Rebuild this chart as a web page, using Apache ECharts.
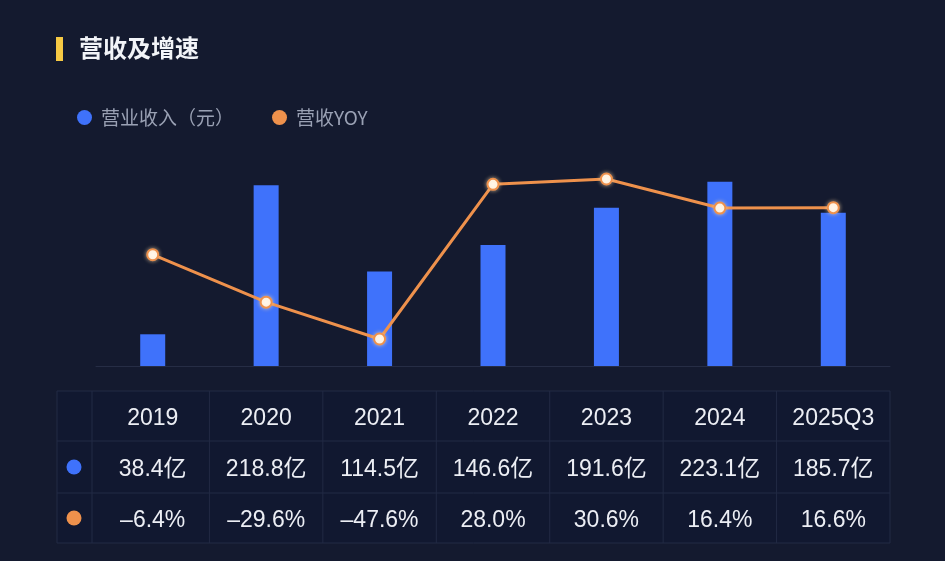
<!DOCTYPE html>
<html>
<head>
<meta charset="utf-8">
<script src="https://cdn.jsdelivr.net/npm/echarts@6/dist/echarts.min.js"></script>
<style>
  html, body { margin: 0; padding: 0; background: #141a2f; }
  #chart { width: 945px; height: 561px; }
</style>
</head>
<body>
<div id="chart"></div>
<script>
// data
const years = ['2019', '2020', '2021', '2022', '2023', '2024', '2025Q3'];
const revenue = [38.4, 218.8, 114.5, 146.6, 191.6, 223.1, 185.7];   // 亿元
const revenueYoy = [-6.4, -29.6, -47.6, 28.0, 30.6, 16.4, 16.6];    // %

const BLUE = '#3f72fb';
const ORANGE = '#ee914c';
const TEXT = '#eceef4';
const FONT = '"Noto Sans CJK SC", "Noto Sans", sans-serif';
const NUM_FONT = '"Liberation Sans", "Noto Sans CJK SC", sans-serif';

const chart = echarts.init(document.getElementById('chart'));

const option = {
  backgroundColor: '#141a2f',
  animation: false,
  title: {
    text: '营收及增速',
    left: 74,
    top: 31,
    textStyle: { color: '#f2f4f8', fontSize: 24, fontWeight: 'bold', fontFamily: FONT },
  },
  legend: {
    left: 72,
    top: 103,
    itemWidth: 15,
    itemHeight: 15,
    itemGap: 38,
    icon: 'circle',
    textStyle: { color: '#9aa1b4', fontSize: 19, fontFamily: FONT, padding: [0, 0, 0, 4] },
    data: [
      { name: '营业收入（元）', itemStyle: { color: BLUE, borderWidth: 0 } },
      { name: '营收YOY', itemStyle: { color: ORANGE, borderWidth: 0 } },
    ],
  },
  grid: { left: 96, right: 55, top: 143, bottom: 195 },
  xAxis: {
    type: 'category',
    data: years,
    axisLine: { lineStyle: { color: '#262d45', width: 1 } },
    axisTick: { show: false },
    axisLabel: { show: false },
  },
  yAxis: [
    { type: 'value', min: 0, max: 270, show: false, splitLine: { show: false } },
    { type: 'value', min: -60.8, max: 48.2, show: false, splitLine: { show: false } },
  ],
  series: [
    {
      name: '营业收入（元）',
      type: 'bar',
      data: revenue,
      barWidth: 25,
      itemStyle: { color: BLUE },
    },
    {
      name: '营收YOY',
      type: 'line',
      yAxisIndex: 1,
      data: revenueYoy,
      symbol: 'circle',
      symbolSize: 11,
      lineStyle: { color: ORANGE, width: 3 },
      itemStyle: { color: '#fff8ee', borderColor: ORANGE, borderWidth: 2, shadowColor: 'rgba(255,220,170,0.6)', shadowBlur: 4 },
    },
  ],
};
chart.setOption(option);

// the data table under the chart, placed with the category axis
function drawTable() {
  const left = 57;
  const iconColW = 35;
  const rowTops = [391, 441, 493];
  const rowH = [50, 52, 50];
  const bottom = 543;
  const xs = years.map((y) => chart.convertToPixel({ xAxisIndex: 0 }, y));
  const step = xs[1] - xs[0];
  const right = xs[xs.length - 1] + step / 2;
  const lineColor = '#222a44';
  const els = [];

  // yellow mark next to the title
  els.push({ type: 'rect', shape: { x: 56, y: 37, width: 7, height: 24 }, style: { fill: '#f6c944' } });

  els.push({ type: 'rect', shape: { x: left, y: rowTops[0], width: right - left, height: bottom - rowTops[0] },
    style: { fill: '#111830', stroke: lineColor, lineWidth: 1 } });
  rowTops.slice(1).forEach((y) => {
    els.push({ type: 'line', shape: { x1: left, y1: y, x2: right, y2: y }, style: { stroke: lineColor, lineWidth: 1 } });
  });
  const vx = [left + iconColW].concat(xs.slice(0, -1).map((x) => x + step / 2));
  vx.forEach((x) => {
    els.push({ type: 'line', shape: { x1: x, y1: rowTops[0], x2: x, y2: bottom }, style: { stroke: lineColor, lineWidth: 1 } });
  });

  const rows = [
    years,
    revenue.map((v) => v.toFixed(1) + '亿'),
    revenueYoy.map((v) => (v < 0 ? '–' + Math.abs(v).toFixed(1) : v.toFixed(1)) + '%'),
  ];
  rows.forEach((row, r) => {
    const cy = rowTops[r] + rowH[r] / 2 + 3;
    row.forEach((txt, i) => {
      els.push({
        type: 'text',
        x: xs[i],
        y: cy,
        style: {
          text: txt, fill: TEXT, fontSize: 23, fontFamily: NUM_FONT,
          align: 'center', verticalAlign: 'middle',
        },
      });
    });
  });
  [BLUE, ORANGE].forEach((c, k) => {
    els.push({ type: 'circle', shape: { cx: left + 17, cy: rowTops[k + 1] + rowH[k + 1] / 2, r: 7.5 }, style: { fill: c } });
  });

  chart.setOption({ graphic: { elements: els } });
}
drawTable();
</script>
</body>
</html>
